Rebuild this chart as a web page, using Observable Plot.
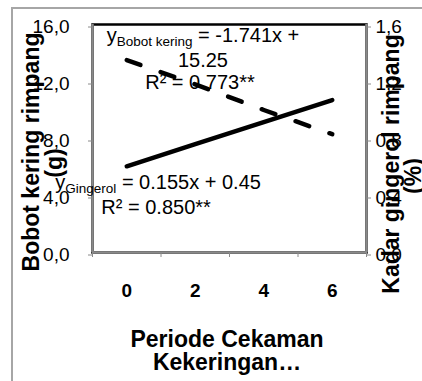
<!DOCTYPE html>
<html><head><meta charset="utf-8">
<script src="https://cdn.jsdelivr.net/npm/d3@7"></script>
<script src="https://cdn.jsdelivr.net/npm/@observablehq/plot@0.6"></script>
<style>
html,body{margin:0;padding:0;background:#fff;overflow:hidden;}
#wrap{position:relative;width:422px;height:381px;overflow:hidden;}
#border{position:absolute;left:11px;top:7px;width:440px;height:400px;border:2px solid #a6a6a6;box-sizing:border-box;}
#chart{position:absolute;left:0;top:0;}
</style></head><body>
<div id="wrap"><div id="border"></div><div id="chart"></div></div>
<script>
// ---- data ----
const periods = [0, 2, 4, 6];                 // Periode Cekaman Kekeringan
const bobotKering = [13.5, 11.8, 10.0, 8.3];  // g  (left axis, dashed)
const gingerol = [0.605, 0.76, 0.915, 1.07];  // %  (right axis, solid)
const leftTicks = [0, 4, 8, 12, 16];
const rightTicks = [0, 0.4, 0.8, 1.2, 1.6];
const xTickLabels = ["0", "2", "4", "6"];
const categoryEdges = [-1, 1, 3, 5, 7];

const ratio = leftTicks[leftTicks.length - 1] / rightTicks[rightTicks.length - 1];
const rows = periods.map((p, i) => ({p, bobot: bobotKering[i], ging: gingerol[i] * ratio}));
const fmt = d => d3.format(".1f")(d).replace(".", ",");
const gray = "#8a8a8a";
const FONT = "'Liberation Sans', Arial, sans-serif";

const plot = Plot.plot({
  width: 422, height: 381,
  marginLeft: 92, marginRight: 56, marginTop: 24, marginBottom: 129,
  style: {fontFamily: FONT, fontSize: "19px", background: "transparent", overflow: "visible", color: "black"},
  x: {type: "linear", domain: [categoryEdges[0], categoryEdges[categoryEdges.length - 1]], axis: null},
  y: {type: "linear", domain: [leftTicks[0], leftTicks[leftTicks.length - 1]], axis: null},
  marks: [
    Plot.frame({stroke: "black", strokeWidth: 2.5}),
    Plot.ruleX([categoryEdges[0], categoryEdges[categoryEdges.length - 1]], {stroke: gray, strokeWidth: 2.5}),
    Plot.ruleY([leftTicks[0]], {stroke: gray, strokeWidth: 2.5}),
    Plot.axisY({anchor: "left", ticks: leftTicks, tickFormat: fmt, tickSize: 4, tickPadding: 19,
      stroke: gray, fill: "black", fontSize: 19, dy: 2.5, label: null}),
    Plot.axisY({anchor: "right", ticks: rightTicks.map(v => v * ratio), tickFormat: d => fmt(d / ratio),
      tickSize: 4, tickPadding: 5, stroke: gray, fill: "black", fontSize: 19, dy: 2.5, label: null}),
    Plot.axisX({anchor: "bottom", ticks: periods, tickFormat: (d, i) => xTickLabels[i], tickSize: 0,
      tickPadding: 31, fill: "black", fontSize: 19, fontWeight: "bold", label: null}),
    Plot.axisX({anchor: "bottom", ticks: categoryEdges, tickFormat: () => "", tickSize: 5,
      stroke: gray, label: null}),
    Plot.line(rows, {x: "p", y: "bobot", stroke: "black", strokeWidth: 4.5, strokeLinecap: "round",
      strokeDasharray: "14.5,21.4"}),
    Plot.line(rows, {x: "p", y: "ging", stroke: "black", strokeWidth: 4.5, strokeLinecap: "round"})
  ]
});
document.getElementById("chart").appendChild(plot);

// ---- annotations & axis titles ----
const svg = d3.select(plot.tagName.toLowerCase() === "svg" ? plot : plot.querySelector("svg"));
const sX = plot.scale("x"), sY = plot.scale("y");
const fx = sX.apply ? v => sX.apply(v) : d3.scaleLinear(sX.domain, sX.range);
const fy = sY.apply ? v => sY.apply(v) : d3.scaleLinear(sY.domain, sY.range);
const g = svg.append("g").attr("font-family", FONT).attr("fill", "black");

function equation(cx, by, sub, rest, r2) {
  const t = g.append("text").attr("x", cx).attr("y", by).attr("text-anchor", "middle").attr("font-size", 20);
  t.append("tspan").text("y");
  t.append("tspan").attr("font-size", 13.5).attr("dy", 4).text(sub);
  t.append("tspan").attr("dy", -4).text(rest[0]);
  rest.slice(1).forEach((line, i) => {
    g.append("text").attr("x", cx).attr("y", by + 25 * (i + 1)).attr("text-anchor", "middle")
      .attr("font-size", 20).text(line);
  });
  return by;
}
// Bobot kering equation (upper centre)
{
  const cx = fx(2.24), by = fy(14.74);
  const t = g.append("text").attr("x", cx).attr("y", by).attr("text-anchor", "middle").attr("font-size", 20);
  t.append("tspan").text("y");
  t.append("tspan").attr("font-size", 13.5).attr("dy", 4).text("Bobot kering");
  t.append("tspan").attr("dy", -4).text(" = -1.741x +");
  g.append("text").attr("x", cx).attr("y", by + 25).attr("text-anchor", "middle").attr("font-size", 20).text("15.25");
  g.append("text").attr("x", cx - 3).attr("y", by + 47).attr("text-anchor", "middle").attr("font-size", 20).text("R² = 0.773**");
}
// Gingerol equation (lower left)
{
  const cx = fx(0.93), by = fy(4.42);
  const t = g.append("text").attr("x", cx).attr("y", by).attr("text-anchor", "middle").attr("font-size", 20);
  t.append("tspan").text("y");
  t.append("tspan").attr("font-size", 13.5).attr("dy", 4).text("Gingerol");
  t.append("tspan").attr("dy", -4).text(" = 0.155x + 0.45");
  g.append("text").attr("x", cx - 2).attr("y", by + 25).attr("text-anchor", "middle").attr("font-size", 20).text("R² = 0.850**");
}
// axis titles
function title(x, y, rot, txt) {
  g.append("text").attr("transform", `translate(${x},${y}) rotate(${rot})`).attr("text-anchor", "middle")
    .attr("font-size", 23).attr("font-weight", "bold").text(txt);
}
title(227, 347, 0, "Periode Cekaman");
title(227, 369.5, 0, "Kekeringan…");
title(38.5, 152, -90, "Bobot kering rimpang");
title(62, 163, -90, "(g)");
title(399, 164, -90, "Kadar gingerol rimpang");
title(421, 176, -90, "(%)");
</script>
</body></html>
